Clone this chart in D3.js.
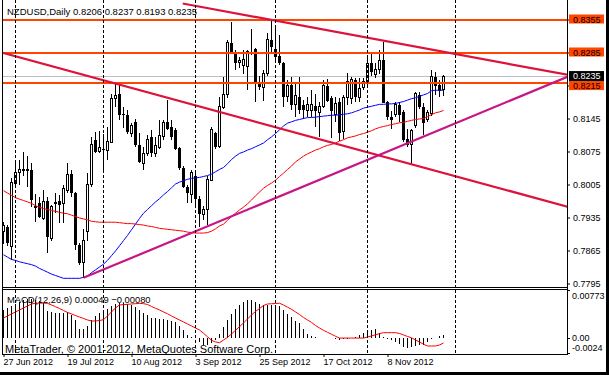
<!DOCTYPE html>
<html>
<head>
<meta charset="utf-8">
<script src="https://cdn.jsdelivr.net/npm/d3@7"></script>
<style>
  body { margin: 0; background: #fff; }
  svg { display: block; font-family: "Liberation Sans", Arial, sans-serif; }
</style>
</head>
<body>
<svg id="chart" width="609" height="375"></svg>
<script>
// NZDUSD daily bars, 27 Jun 2012 .. 28 Nov 2012 (bar index 0..110)
var opens = [0.7905,0.7915,0.7873,0.8008,0.8031,0.8034,0.8035,0.8036,0.7960,0.7966,
  0.7933,0.7970,0.7891,0.7965,0.7970,0.7965,0.7993,0.8027,0.7986,0.7877,
  0.7840,0.7905,0.8004,0.8099,0.8075,0.8080,0.8077,0.8094,0.8188,0.8197,
  0.8155,0.8152,0.8114,0.8138,0.8089,0.8050,0.8070,0.8106,0.8071,0.8084,
  0.8106,0.8137,0.8127,0.8120,0.8083,0.8040,0.8000,0.7983,0.8022,0.7974,
  0.7942,0.7951,0.8013,0.8115,0.8085,0.8169,0.8195,0.8305,0.8285,0.8264,
  0.8257,0.8255,0.8285,0.8292,0.8222,0.8211,0.8241,0.8312,0.8292,0.8277,
  0.8262,0.8191,0.8216,0.8174,0.8190,0.8174,0.8162,0.8163,0.8172,0.8157,
  0.8170,0.8214,0.8188,0.8154,0.8179,0.8117,0.8190,0.8188,0.8226,0.8190,
  0.8211,0.8220,0.8262,0.8239,0.8248,0.8269,0.8179,0.8149,0.8154,0.8174,
  0.8159,0.8101,0.8089,0.8131,0.8195,0.8170,0.8143,0.8156,0.8234,0.8216,0.8206];
var highs = [0.7925,0.7920,0.8018,0.8050,0.8057,0.8075,0.8065,0.8050,0.7985,0.7979,
  0.7993,0.7979,0.7962,0.7988,0.7983,0.8004,0.8050,0.8036,0.7990,0.7880,
  0.7910,0.8030,0.8106,0.8117,0.8119,0.8113,0.8127,0.8197,0.8220,0.8218,
  0.8170,0.8163,0.8135,0.8145,0.8114,0.8085,0.8110,0.8120,0.8106,0.8142,
  0.8142,0.8184,0.8142,0.8125,0.8085,0.8045,0.8005,0.8035,0.8030,0.7980,
  0.7960,0.8022,0.8128,0.8117,0.8191,0.8234,0.8312,0.8350,0.8291,0.8275,
  0.8290,0.8290,0.8334,0.8295,0.8236,0.8248,0.8326,0.8354,0.8340,0.8322,
  0.8265,0.8227,0.8234,0.8220,0.8234,0.8185,0.8190,0.8205,0.8198,0.8180,
  0.8227,0.8229,0.8193,0.8190,0.8188,0.8195,0.8241,0.8232,0.8230,0.8230,
  0.8230,0.8276,0.8285,0.8262,0.8290,0.8308,0.8183,0.8160,0.8180,0.8180,
  0.8163,0.8122,0.8122,0.8202,0.8202,0.8177,0.8163,0.8248,0.8244,0.8226,0.8237];
var lows = [0.7878,0.7875,0.7845,0.8000,0.8004,0.8022,0.8000,0.7958,0.7925,0.7933,
  0.7929,0.7859,0.7885,0.7944,0.7923,0.7923,0.7988,0.7979,0.7866,0.7834,
  0.7806,0.7885,0.8000,0.8071,0.8071,0.8036,0.8057,0.8094,0.8170,0.8142,
  0.8125,0.8112,0.8106,0.8085,0.8050,0.8036,0.8065,0.8063,0.8063,0.8080,
  0.8099,0.8120,0.8099,0.8078,0.8036,0.7997,0.7965,0.7966,0.7961,0.7915,
  0.7930,0.7920,0.8012,0.8080,0.8083,0.8165,0.8189,0.8283,0.8248,0.8252,
  0.8240,0.8205,0.8279,0.8181,0.8205,0.8183,0.8235,0.8283,0.8265,0.8259,
  0.8170,0.8179,0.8163,0.8149,0.8155,0.8145,0.8149,0.8149,0.8128,0.8105,
  0.8168,0.8179,0.8103,0.8137,0.8098,0.8101,0.8173,0.8175,0.8180,0.8181,
  0.8205,0.8209,0.8236,0.8230,0.8239,0.8177,0.8142,0.8122,0.8149,0.8137,
  0.8096,0.8084,0.8048,0.8125,0.8165,0.8110,0.8137,0.8150,0.8195,0.8190,0.8193];
var closes = [0.7918,0.7880,0.8010,0.8031,0.8036,0.8037,0.8036,0.7972,0.7955,0.7937,
  0.7968,0.7894,0.7958,0.7966,0.7962,0.7997,0.8027,0.7988,0.7877,0.7838,
  0.7887,0.8006,0.8089,0.8075,0.8084,0.8078,0.8096,0.8188,0.8193,0.8152,
  0.8152,0.8116,0.8131,0.8089,0.8053,0.8071,0.8100,0.8071,0.8087,0.8108,
  0.8137,0.8123,0.8106,0.8080,0.8040,0.8000,0.7986,0.8030,0.7974,0.7942,
  0.7951,0.8015,0.8121,0.8085,0.8170,0.8195,0.8307,0.8285,0.8262,0.8269,
  0.8271,0.8287,0.8282,0.8221,0.8211,0.8241,0.8313,0.8297,0.8275,0.8262,
  0.8191,0.8214,0.8174,0.8193,0.8163,0.8163,0.8174,0.8174,0.8160,0.8170,
  0.8214,0.8183,0.8160,0.8177,0.8114,0.8190,0.8223,0.8227,0.8190,0.8209,
  0.8223,0.8262,0.8244,0.8248,0.8267,0.8177,0.8149,0.8142,0.8174,0.8152,
  0.8099,0.8089,0.8119,0.8197,0.8169,0.8135,0.8157,0.8235,0.8214,0.8204,0.8235];

// moving averages (blue and red)
var maFast = [0.7856,0.7851,0.7846,0.7844,0.7841,0.7839,0.7837,0.7835,0.7832,0.7827,
  0.7823,0.7819,0.7815,0.7812,0.7809,0.7806,0.7806,0.7806,0.7806,0.7806,
  0.7808,0.7811,0.7818,0.7824,0.7830,0.7836,0.7844,0.7854,0.7864,0.7875,
  0.7886,0.7897,0.7909,0.7921,0.7933,0.7944,0.7952,0.7960,0.7968,0.7975,
  0.7983,0.7990,0.7998,0.8006,0.8010,0.8013,0.8016,0.8018,0.8019,0.8020,
  0.8022,0.8024,0.8027,0.8032,0.8037,0.8041,0.8049,0.8058,0.8065,0.8071,
  0.8074,0.8078,0.8081,0.8085,0.8089,0.8093,0.8100,0.8106,0.8113,0.8121,
  0.8129,0.8135,0.8138,0.8141,0.8143,0.8145,0.8147,0.8147,0.8148,0.8149,
  0.8150,0.8151,0.8152,0.8152,0.8153,0.8154,0.8155,0.8157,0.8160,0.8163,
  0.8167,0.8169,0.8171,0.8173,0.8175,0.8175,0.8176,0.8176,0.8177,0.8179,
  0.8181,0.8184,0.8187,0.8189,0.8192,0.8195,0.8198,0.8204,0.8205,0.8205,0.8205];
var maSlow = [0.7992,0.7987,0.7982,0.7977,0.7974,0.7971,0.7968,0.7965,0.7960,0.7957,
  0.7954,0.7952,0.7950,0.7948,0.7946,0.7944,0.7943,0.7940,0.7937,0.7934,
  0.7932,0.7930,0.7927,0.7926,0.7925,0.7925,0.7925,0.7925,0.7925,0.7924,
  0.7923,0.7922,0.7922,0.7921,0.7920,0.7919,0.7917,0.7916,0.7914,0.7912,
  0.7911,0.7910,0.7909,0.7908,0.7907,0.7906,0.7904,0.7903,0.7902,0.7902,
  0.7902,0.7903,0.7906,0.7911,0.7917,0.7921,0.7929,0.7937,0.7944,0.7951,
  0.7957,0.7964,0.7972,0.7981,0.7989,0.7997,0.8003,0.8008,0.8014,0.8022,
  0.8029,0.8037,0.8044,0.8053,0.8059,0.8065,0.8070,0.8074,0.8078,0.8081,
  0.8085,0.8088,0.8090,0.8093,0.8097,0.8100,0.8104,0.8106,0.8108,0.8111,
  0.8113,0.8116,0.8119,0.8123,0.8126,0.8128,0.8130,0.8132,0.8134,0.8136,
  0.8137,0.8139,0.8141,0.8143,0.8144,0.8145,0.8149,0.8153,0.8157,0.8159,0.8162];

// MACD(12,26,9)
var macdMain = [0.00452,0.00484,0.00516,0.00548,0.00580,0.00613,0.00629,0.00629,0.00613,0.00597,
  0.00564,0.00436,0.00420,0.00404,0.00404,0.00404,0.00420,0.00371,0.00291,0.00146,
  0.00146,0.00195,0.00291,0.00355,0.00404,0.00436,0.00468,0.00516,0.00548,0.00564,
  0.00564,0.00548,0.00532,0.00500,0.00452,0.00404,0.00371,0.00323,0.00323,0.00307,
  0.00307,0.00291,0.00275,0.00259,0.00195,0.00130,0.00050,0.00018,0.00002,-0.00063,
  -0.00111,-0.00111,-0.00079,-0.00031,0.00066,0.00178,0.00291,0.00388,0.00468,0.00532,
  0.00580,0.00613,0.00613,0.00580,0.00548,0.00532,0.00532,0.00532,0.00532,0.00516,
  0.00452,0.00388,0.00339,0.00275,0.00243,0.00146,0.00066,0.00034,0.00013,0.00002,
  0.00002,0.00002,0.00002,-0.00014,-0.00023,-0.00014,-0.00014,-0.00006,0.00013,0.00050,
  0.00087,0.00103,0.00130,0.00142,0.00077,0.00023,-0.00019,-0.00023,-0.00058,-0.00095,
  -0.00138,-0.00164,-0.00138,-0.00127,-0.00111,-0.00111,-0.00058,-0.00019,-0.00003,0.00034,0.00049];
var macdSignal = [0.00323,0.00355,0.00388,0.00420,0.00452,0.00484,0.00516,0.00548,0.00560,0.00561,
  0.00563,0.00558,0.00532,0.00505,0.00476,0.00444,0.00412,0.00388,0.00363,0.00339,
  0.00315,0.00291,0.00275,0.00275,0.00283,0.00296,0.00355,0.00420,0.00484,0.00532,
  0.00539,0.00543,0.00548,0.00553,0.00558,0.00553,0.00540,0.00508,0.00479,0.00452,
  0.00420,0.00391,0.00355,0.00323,0.00291,0.00259,0.00227,0.00195,0.00162,0.00130,
  0.00077,0.00021,-0.00035,-0.00063,-0.00074,-0.00031,0.00010,0.00066,0.00125,0.00183,
  0.00243,0.00307,0.00371,0.00428,0.00476,0.00524,0.00548,0.00552,0.00556,0.00560,
  0.00532,0.00497,0.00463,0.00420,0.00379,0.00331,0.00291,0.00251,0.00203,0.00162,
  0.00125,0.00093,0.00061,0.00029,0.00000,0.00000,0.00000,0.00000,0.00000,0.00000,
  0.00000,0.00018,0.00034,0.00053,0.00072,0.00087,0.00087,0.00087,0.00087,0.00074,
  0.00050,0.00026,0.00005,-0.00031,-0.00063,-0.00100,-0.00127,-0.00127,-0.00127,-0.00111,-0.00080];

// axis stuff
var priceTicks = [0.8355, 0.8285, 0.8215, 0.8145, 0.8075, 0.8005, 0.7935, 0.7865, 0.7795];
var dateIdx = [0, 16, 32, 48, 64, 80, 96];
var dateLabels = ["27 Jun 2012", "19 Jul 2012", "10 Aug 2012", "3 Sep 2012", "25 Sep 2012", "17 Oct 2012", "8 Nov 2012"];
var monthIdx = [3, 25, 48, 68, 91, 113];
var macdTicks = [0.00773, 0, -0.0024];
var macdTickLabels = ["0.00773", "0.00", "-0.0024"];

// drawn objects: horizontal levels and trend lines (bar index, price)
var hLevels = [0.8355, 0.8285, 0.8221];
var hLevelLabels = ["0.8355", "0.8285", "0.8215"];
var trendLines = [
  {a: [28, 0.8219], b: [102, 0.8048], start: -2, color: "#DC143C"},
  {a: [67, 0.8354], b: [95, 0.8310], start: 44.8, color: "#DC143C"},
  {a: [20, 0.7807], b: [100, 0.8089], start: 20, color: "#C71585"}
];
var lastPrice = 0.8235;

var svg = d3.select("#chart");

var plotL = 2.5, plotR = 567.5, mainB = 287.5, macdT = 289.5, macdB = 354.5;

var x = d3.scaleLinear().domain([0, 110]).range([3.5, 443.5]);
var y = d3.scaleLinear().domain([0.7795, 0.8355]).range([283.5, 19.5]);
var ym = d3.scaleLinear().domain([-0.0024, 0.00773]).range([353, 290]);

var defs = svg.append("defs");
defs.append("clipPath").attr("id", "clipMain")
  .append("rect").attr("x", 3).attr("y", 0).attr("width", 564).attr("height", 287);
defs.append("clipPath").attr("id", "clipMacd")
  .append("rect").attr("x", 3).attr("y", 290).attr("width", 564).attr("height", 64);

var main = svg.append("g").attr("clip-path", "url(#clipMain)");
var macd = svg.append("g").attr("clip-path", "url(#clipMacd)");

// month separators
monthIdx.forEach(function (i) {
  [[0, 287], [290, 354]].forEach(function (r) {
    svg.append("line")
      .attr("x1", x(i)).attr("x2", x(i))
      .attr("y1", r[0]).attr("y2", r[1])
      .attr("stroke", "#000").attr("stroke-dasharray", "3,2")
      .attr("shape-rendering", "crispEdges");
  });
});

// bid line
main.append("line")
  .attr("x1", 3).attr("x2", 567)
  .attr("y1", Math.round(y(lastPrice)) + 0.5).attr("y2", Math.round(y(lastPrice)) + 0.5)
  .attr("stroke", "#c0c0c0");

// candles
var idx = d3.range(closes.length);
var cg = main.append("g").attr("shape-rendering", "crispEdges");
cg.selectAll(".wick").data(idx).join("line")
  .attr("x1", d => x(d)).attr("x2", d => x(d))
  .attr("y1", d => y(highs[d])).attr("y2", d => y(lows[d]))
  .attr("stroke", "#000");
cg.selectAll(".body").data(idx).join("rect")
  .attr("x", d => closes[d] >= opens[d] ? x(d) - 1 : x(d) - 1.5)
  .attr("width", d => closes[d] >= opens[d] ? 2 : 3)
  .attr("y", d => y(Math.max(opens[d], closes[d])))
  .attr("height", d => Math.max(1, Math.abs(y(opens[d]) - y(closes[d]))))
  .attr("fill", d => closes[d] >= opens[d] ? "#fff" : "#000")
  .attr("stroke", d => closes[d] >= opens[d] ? "#000" : "none");

// moving averages
var maLine = arr => d3.line().x((d, i) => x(i)).y(d => y(d))(arr);
main.append("path").attr("d", maLine(maFast)).attr("fill", "none").attr("stroke", "#0000ff").attr("stroke-width", 1);
main.append("path").attr("d", maLine(maSlow)).attr("fill", "none").attr("stroke", "#ff0000").attr("stroke-width", 1);

// horizontal levels
hLevels.forEach(function (p) {
  main.append("line")
    .attr("x1", 3).attr("x2", 567).attr("y1", y(p)).attr("y2", y(p))
    .attr("stroke", "#ff4500").attr("stroke-width", 2).attr("shape-rendering", "crispEdges");
});

// trend lines
trendLines.forEach(function (t) {
  var slope = (t.b[1] - t.a[1]) / (t.b[0] - t.a[0]);
  var i1 = t.start, i2 = 145;
  main.append("line")
    .attr("x1", x(i1)).attr("y1", y(t.a[1] + slope * (i1 - t.a[0])))
    .attr("x2", x(i2)).attr("y2", y(t.a[1] + slope * (i2 - t.a[0])))
    .attr("stroke", t.color).attr("stroke-width", 2.2);
});

// MACD histogram + signal
macd.append("g").attr("shape-rendering", "crispEdges")
  .selectAll("line").data(idx).join("line")
  .attr("x1", d => x(d)).attr("x2", d => x(d))
  .attr("y1", ym(0)).attr("y2", d => ym(macdMain[d]))
  .attr("stroke", "#000");
macd.append("path")
  .attr("d", d3.line().x((d, i) => x(i)).y(d => ym(d))(macdSignal))
  .attr("fill", "none").attr("stroke", "#ff0000").attr("stroke-width", 1);

// frames
var frame = svg.append("g").attr("stroke", "#000").attr("fill", "none").attr("shape-rendering", "crispEdges");
frame.append("line").attr("x1", plotL).attr("x2", plotL).attr("y1", 0).attr("y2", macdB);
frame.append("line").attr("x1", plotR).attr("x2", plotR).attr("y1", 0).attr("y2", macdB);
frame.append("line").attr("x1", plotL).attr("x2", plotR).attr("y1", mainB).attr("y2", mainB);
frame.append("line").attr("x1", plotL).attr("x2", plotR).attr("y1", macdT).attr("y2", macdT);
frame.append("line").attr("x1", plotL).attr("x2", plotR).attr("y1", macdB).attr("y2", macdB);

// price axis
svg.append("g").attr("transform", "translate(567,0)")
  .call(d3.axisRight(y).tickValues(priceTicks).tickSize(3).tickPadding(3).tickFormat(d3.format(".4f")))
  .call(g => g.select(".domain").remove())
  .call(g => g.selectAll("line").attr("stroke", "#000"))
  .call(g => g.selectAll("text").attr("fill", "#000").attr("font-size", 9).attr("font-family", "Liberation Sans, Arial, sans-serif"));

// level labels on the price axis; the current price box sits on top
var lastTop = y(lastPrice) - 5, lastBottom = y(lastPrice) + 5;
hLevels.forEach(function (p, k) {
  var top = y(p) - 5;
  if (top < lastBottom && top + 10 > lastTop) top = lastBottom;
  svg.append("rect").attr("x", 569).attr("y", top).attr("width", 35).attr("height", 9).attr("fill", "#ff4500");
  svg.append("text").attr("x", 573).attr("y", top + 8).attr("font-size", 9).attr("fill", "#000").text(hLevelLabels[k]);
});
svg.append("rect").attr("x", 569).attr("y", lastTop).attr("width", 35).attr("height", 10).attr("fill", "#000");
svg.append("text").attr("x", 573).attr("y", y(lastPrice) + 3.3).attr("font-size", 9).attr("fill", "#fff").text(d3.format(".4f")(lastPrice));

// MACD axis labels
var macdOffs = [9.3, 3.2, -2.3];
macdTicks.forEach(function (v, k) {
  svg.append("line").attr("x1", 567).attr("x2", 570).attr("y1", Math.round(ym(v)) + 0.5).attr("y2", Math.round(ym(v)) + 0.5).attr("stroke", "#000");
  svg.append("text").attr("x", 572).attr("y", ym(v) + macdOffs[k]).attr("font-size", 9).attr("fill", "#000").text(macdTickLabels[k]);
});

// date axis
svg.append("g").attr("transform", "translate(0,354)")
  .call(d3.axisBottom(x).tickValues(dateIdx).tickSize(3).tickPadding(2).tickFormat((d, k) => dateLabels[k]))
  .call(g => g.select(".domain").remove())
  .call(g => g.selectAll("line").attr("stroke", "#000"))
  .call(g => g.selectAll("text").attr("fill", "#000").attr("font-size", 9).attr("text-anchor", "start").attr("dx", -0.5)
    .attr("font-family", "Liberation Sans, Arial, sans-serif"));

// texts
svg.append("text").attr("x", 7).attr("y", 14.5).attr("font-size", 9.5).attr("fill", "#000")
  .text("NZDUSD,Daily  " + [opens[110], highs[110], lows[110], closes[110]].map(d3.format(".4f")).join(" "));
svg.append("text").attr("x", 7).attr("y", 303).attr("font-size", 9.4).attr("fill", "#000")
  .text("MACD(12,26,9) " + d3.format(".5f")(macdMain[110]) + " " + d3.format(".5f")(macdSignal[110]));
svg.append("text").attr("x", 5).attr("y", 353).attr("font-size", 11).attr("fill", "#000")
  .text("MetaTrader, \u00a9 2001-2012, MetaQuotes Software Corp.");

// window edge
svg.append("rect").attr("x", 606).attr("y", 0).attr("width", 3).attr("height", 375).attr("fill", "#000");
svg.append("rect").attr("x", 0).attr("y", 372).attr("width", 609).attr("height", 3).attr("fill", "#000");
</script>
</body>
</html>
